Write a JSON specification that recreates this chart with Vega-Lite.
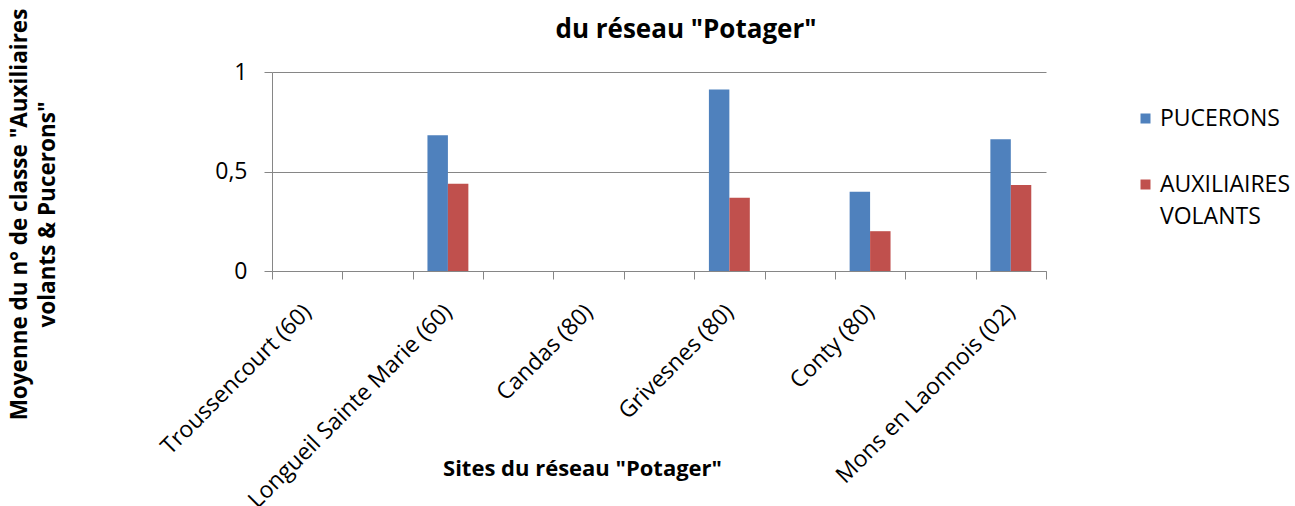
{
  "$schema": "https://vega.github.io/schema/vega-lite/v6.json",
  "width": 774,
  "height": 199,
  "autosize": {"type": "none"},
  "padding": {"left": 272, "top": 72, "right": 249, "bottom": 235},
  "background": "white",
  "title": {
    "text": "du réseau \"Potager\"",
    "font": "Open Sans",
    "fontSize": 26,
    "fontWeight": "bold",
    "color": "black",
    "anchor": "middle",
    "frame": "group",
    "baseline": "alphabetic",
    "dx": 27,
    "dy": 22,
    "offset": -34
  },
  "data": {
    "values": [
      {"site": "Troussencourt (60)", "serie": "PUCERONS", "valeur": 0},
      {"site": "Troussencourt (60)", "serie": "AUXILIAIRES VOLANTS", "valeur": 0},
      {"site": "Longueil Sainte Marie (60)", "serie": "PUCERONS", "valeur": 0.682},
      {"site": "Longueil Sainte Marie (60)", "serie": "AUXILIAIRES VOLANTS", "valeur": 0.438},
      {"site": "Candas (80)", "serie": "PUCERONS", "valeur": 0},
      {"site": "Candas (80)", "serie": "AUXILIAIRES VOLANTS", "valeur": 0},
      {"site": "Grivesnes (80)", "serie": "PUCERONS", "valeur": 0.912},
      {"site": "Grivesnes (80)", "serie": "AUXILIAIRES VOLANTS", "valeur": 0.368},
      {"site": "Conty (80)", "serie": "PUCERONS", "valeur": 0.398},
      {"site": "Conty (80)", "serie": "AUXILIAIRES VOLANTS", "valeur": 0.2},
      {"site": "Mons en Laonnois (02)", "serie": "PUCERONS", "valeur": 0.662},
      {"site": "Mons en Laonnois (02)", "serie": "AUXILIAIRES VOLANTS", "valeur": 0.432}
    ]
  },
  "mark": {"type": "bar"},
  "encoding": {
    "x": {
      "field": "site",
      "type": "nominal",
      "scale": {
        "domain": ["Troussencourt (60)", " ", "Longueil Sainte Marie (60)", "  ", "Candas (80)", "   ", "Grivesnes (80)", "    ", "Conty (80)", "     ", "Mons en Laonnois (02)"],
        "paddingInner": 0,
        "paddingOuter": 0
      },
      "axis": {
        "title": "Sites du réseau \"Potager\"",
        "titleFont": "Open Sans",
        "titleFontSize": 22,
        "titleFontWeight": "bold",
        "titleColor": "black",
        "titleX": 310,
        "titleY": 204,
        "titleBaseline": "alphabetic",
        "titleAlign": "center",
        "labelAngle": -45,
        "labelAlign": "right",
        "labelBaseline": "middle",
        "labelFont": "Open Sans",
        "labelFontSize": 23,
        "labelColor": "black",
        "labelPadding": 29,
        "labelLimit": 0,
        "labelOverlap": false,
        "tickBand": "extent",
        "ticks": true,
        "tickSize": 8,
        "tickColor": "#868686",
        "domainColor": "#868686",
        "grid": false
      }
    },
    "xOffset": {
      "field": "serie",
      "type": "nominal",
      "scale": {"domain": ["PUCERONS", "AUXILIAIRES VOLANTS"], "paddingInner": 0, "paddingOuter": 0.72}
    },
    "y": {
      "field": "valeur",
      "type": "quantitative",
      "scale": {"domain": [0, 1], "nice": false},
      "axis": {
        "title": ["Moyenne du n° de classe \"Auxiliaires", "volants & Pucerons\""],
        "titleFont": "Open Sans",
        "titleFontSize": 22.5,
        "titleFontWeight": "bold",
        "titleColor": "black",
        "titleLineHeight": 28,
        "titleAngle": -90,
        "titleX": -246,
        "titleY": 142,
        "titleBaseline": "alphabetic",
        "titleAlign": "center",
        "values": [0, 0.5, 1],
        "format": ".1~f",
        "labelFont": "Open Sans",
        "labelFontSize": 23,
        "labelColor": "black",
        "labelPadding": 17,
        "tickSize": 8,
        "tickColor": "#868686",
        "domainColor": "#868686",
        "gridColor": "#868686",
        "grid": true
      }
    },
    "color": {
      "field": "serie",
      "type": "nominal",
      "scale": {"domain": ["PUCERONS", "AUXILIAIRES VOLANTS"], "range": ["#4F81BD", "#C0504D"]},
      "legend": {
        "title": null,
        "orient": "none",
        "legendX": 862,
        "legendY": 35,
        "padding": 0,
        "symbolType": "square",
        "symbolSize": 100,
        "labelFont": "Open Sans",
        "labelFontSize": 23,
        "labelColor": "black",
        "labelOffset": 3,
        "labelLimit": 0,
        "rowPadding": 42,
        "labelExpr": "datum.label == 'AUXILIAIRES VOLANTS' ? ['AUXILIAIRES', 'VOLANTS'] : datum.label"
      }
    }
  },
  "config": {
    "view": {"stroke": null},
    "style": {"guide-label": {"lineHeight": 32}},
    "locale": {"number": {"decimal": ",", "thousands": " ", "grouping": [3], "currency": ["", " €"]}}
  }
}
